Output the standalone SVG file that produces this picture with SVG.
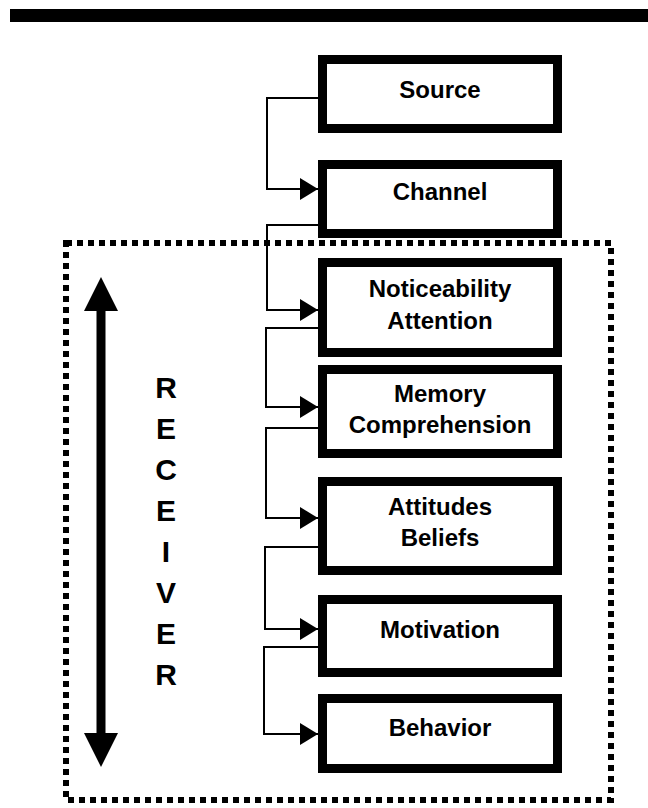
<svg xmlns="http://www.w3.org/2000/svg" width="648" height="808" viewBox="0 0 648 808">
<style>
.box{fill:#fff;stroke:#000;stroke-width:9}
.lbl{font-family:"Liberation Sans",Arial,sans-serif;font-weight:bold;font-size:24px;text-anchor:middle;fill:#000}
.rcv{font-family:"Liberation Sans",Arial,sans-serif;font-weight:bold;font-size:30px;text-anchor:middle;fill:#000}
.conn{fill:none;stroke:#000;stroke-width:2}
</style>
<defs>
<marker id="ah" markerUnits="userSpaceOnUse" markerWidth="18" markerHeight="22" refX="18" refY="11" orient="auto">
<path d="M0,0 L18,11 L0,22 z" fill="#000"/>
</marker>
</defs>
<rect x="10" y="9" width="638" height="13" fill="#000"/>
<g id="receiver">
<rect x="66" y="243" width="545" height="557" fill="none" stroke="#000" stroke-width="6" stroke-dasharray="6 5"/>
<line x1="101" y1="305" x2="101" y2="740" stroke="#000" stroke-width="9"/>
<polygon points="101,277 84,311 118,311" fill="#000"/>
<polygon points="101,767 84,733 118,733" fill="#000"/>
<text class="rcv" x="166" y="398">R</text>
<text class="rcv" x="166" y="439">E</text>
<text class="rcv" x="166" y="480">C</text>
<text class="rcv" x="166" y="521">E</text>
<text class="rcv" x="166" y="562">I</text>
<text class="rcv" x="166" y="603">V</text>
<text class="rcv" x="166" y="644">E</text>
<text class="rcv" x="166" y="685">R</text>
</g>
<g id="connectors">
<path class="conn" d="M318,98 H267 V189 H318" marker-end="url(#ah)"/>
<path class="conn" d="M318,225 H267 V310 H318" marker-end="url(#ah)"/>
<path class="conn" d="M318,328 H266 V407 H318" marker-end="url(#ah)"/>
<path class="conn" d="M318,428 H266 V518 H318" marker-end="url(#ah)"/>
<path class="conn" d="M318,547 H265 V629 H318" marker-end="url(#ah)"/>
<path class="conn" d="M318,647 H264 V734 H318" marker-end="url(#ah)"/>
</g>
<g id="source">
<rect class="box" x="322.5" y="59.5" width="235" height="69"/>
<text class="lbl" x="440" y="98">Source</text>
</g>
<g id="channel">
<rect class="box" x="322.5" y="164.5" width="235" height="69"/>
<text class="lbl" x="440" y="200">Channel</text>
</g>
<g id="noticeability">
<rect class="box" x="322.5" y="262.5" width="235" height="90"/>
<text class="lbl" x="440" y="297">Noticeability</text>
<text class="lbl" x="440" y="329">Attention</text>
</g>
<g id="memory">
<rect class="box" x="322.5" y="369.5" width="235" height="84"/>
<text class="lbl" x="440" y="402">Memory</text>
<text class="lbl" x="440" y="433">Comprehension</text>
</g>
<g id="attitudes">
<rect class="box" x="322.5" y="481.5" width="235" height="89"/>
<text class="lbl" x="440" y="515">Attitudes</text>
<text class="lbl" x="440" y="546">Beliefs</text>
</g>
<g id="motivation">
<rect class="box" x="322.5" y="599.5" width="235" height="73"/>
<text class="lbl" x="440" y="638">Motivation</text>
</g>
<g id="behavior">
<rect class="box" x="322.5" y="698.5" width="235" height="70"/>
<text class="lbl" x="440" y="736">Behavior</text>
</g>
</svg>
